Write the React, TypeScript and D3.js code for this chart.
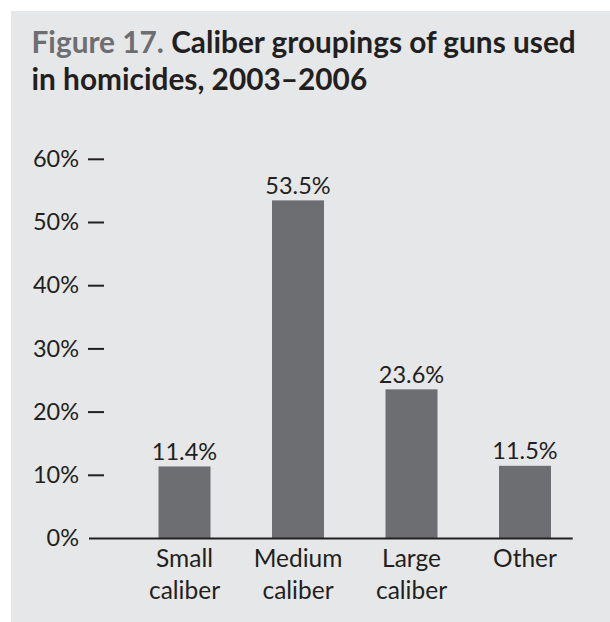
import React from "react";
import * as d3 from "d3";

const categories: string[][] = [["Small", "caliber"], ["Medium", "caliber"], ["Large", "caliber"], ["Other"]];
const values: number[] = [11.4, 53.5, 23.6, 11.5];
const valueLabels: string[] = ["11.4%", "53.5%", "23.6%", "11.5%"];
const yTicks: number[] = [0, 10, 20, 30, 40, 50, 60];
const titleLead = "Figure 17.";
const titleLine1 = " Caliber groupings of guns used";
const titleLine2 = "in homicides, 2003–2006";

const W = 610;
const H = 622;
const FONT = "Lato, 'Open Sans', sans-serif";
const DARK = "#231f20";
const BAR = "#6d6e71";
const PANEL = "#e6e7e8";

export default function App() {
  const keys = categories.map((c) => c.join(" "));
  const y = d3.scaleLinear().domain([0, 60]).range([538.5, 159.3]);
  const x = d3
    .scaleBand<string>()
    .domain(keys)
    .range([127.75, 581.75])
    .paddingInner(0.542)
    .paddingOuter(0.271);
  const bw = x.bandwidth();

  return (
    <svg
      width={W}
      height={H}
      style={{ position: "absolute", left: 0, top: 0, background: "#fff" }}
      fontFamily={FONT}
    >
      <rect x={11} y={11} width={W - 11} height={H - 11} fill={PANEL} />
      <text x={31.5} y={53} fontSize={29.8} fontWeight={700} fill={DARK}>
        <tspan fill={BAR}>{titleLead}</tspan>
        <tspan>{titleLine1}</tspan>
      </text>
      <text x={31.5} y={90} fontSize={29.8} fontWeight={700} fill={DARK}>
        {titleLine2}
      </text>

      {yTicks.map((t) => (
        <g key={t}>
          <text x={79} y={y(t) + 7.6} textAnchor="end" fontSize={23.5} fill={DARK}>
            {t + "%"}
          </text>
          {t > 0 && (
            <line x1={88} x2={104} y1={y(t)} y2={y(t)} stroke={DARK} strokeWidth={2} />
          )}
        </g>
      ))}

      {keys.map((k, i) => (
        <g key={k}>
          <rect x={x(k)} y={y(values[i])} width={bw} height={y(0) - y(values[i])} fill={BAR} />
          <text
            x={(x(k) as number) + bw / 2}
            y={y(values[i]) - 6.5}
            textAnchor="middle"
            fontSize={23.5}
            fill={DARK}
          >
            {valueLabels[i]}
          </text>
          {categories[i].map((line, j) => (
            <text
              key={j}
              x={(x(k) as number) + bw / 2}
              y={566.7 + j * 32.5}
              textAnchor="middle"
              fontSize={24.5}
              fill={DARK}
            >
              {line}
            </text>
          ))}
        </g>
      ))}

      <line x1={89} x2={572.7} y1={y(0)} y2={y(0)} stroke={DARK} strokeWidth={2} />
    </svg>
  );
}
